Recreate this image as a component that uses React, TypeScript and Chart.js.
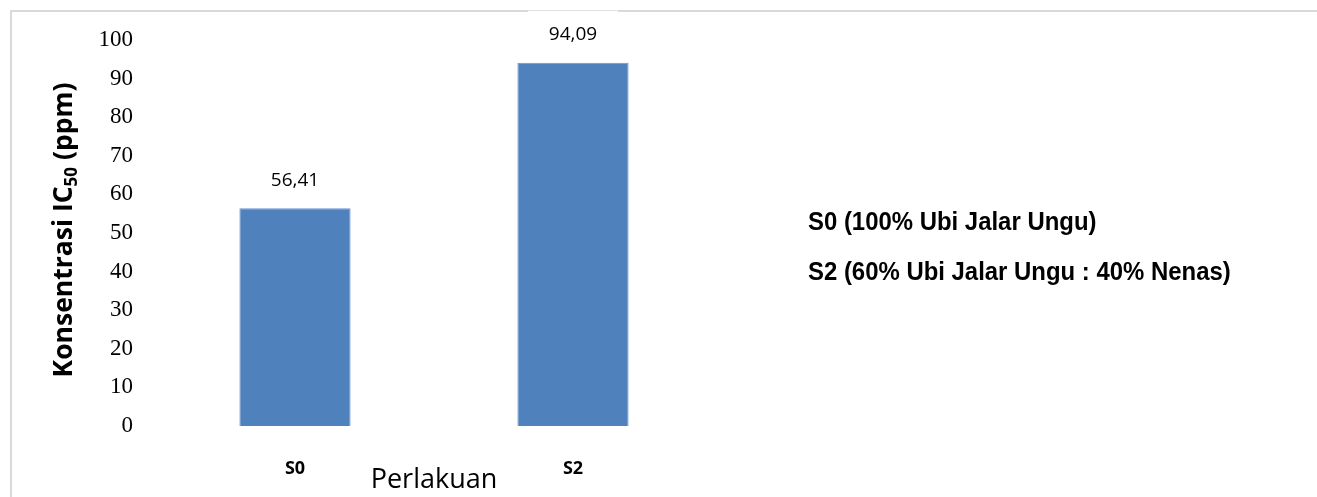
import React, { useEffect, useRef } from "react";
import { Chart, registerables } from "chart.js";

Chart.register(...registerables);

const categories = ["S0", "S2"];
const values = [56.41, 94.09];
const valueLabels = ["56,41", "94,09"];
const legendLines = ["S0 (100% Ubi Jalar Ungu)", "S2 (60% Ubi Jalar Ungu : 40% Nenas)"];
const yTitleParts = ["Konsentrasi IC", "50", " (ppm)"];
const xTitle = "Perlakuan";

const W = 1317;
const H = 497;

const decorPlugin = {
  id: "decor",
  beforeDraw(chart: any) {
    const ctx = chart.ctx;
    ctx.save();
    ctx.fillStyle = "#ffffff";
    ctx.fillRect(0, 0, W, H);
    ctx.strokeStyle = "#d9d9d9";
    ctx.lineWidth = 2;
    ctx.beginPath();
    ctx.moveTo(11, H);
    ctx.lineTo(11, 11);
    ctx.lineTo(W, 11);
    ctx.stroke();
    ctx.restore();
  },
  afterDraw(chart: any) {
    const ctx = chart.ctx;
    ctx.save();
    // value labels
    const meta = chart.getDatasetMeta(0);
    ctx.font = "19px 'Open Sans'";
    ctx.textAlign = "center";
    ctx.textBaseline = "middle";
    meta.data.forEach((bar: any, i: number) => {
      const y = bar.y - 28;
      ctx.fillStyle = "#ffffff";
      ctx.fillRect(bar.x - 45, y - 24, 90, 40);
      ctx.fillStyle = "#000000";
      ctx.fillText(valueLabels[i], bar.x, y);
    });
    // y title with subscript
    ctx.translate(72, 230);
    ctx.rotate(-Math.PI / 2);
    const big = "bold 26.5px 'Open Sans'";
    const small = "bold 17px 'Open Sans'";
    ctx.font = big;
    const w0 = ctx.measureText(yTitleParts[0]).width;
    const w2 = ctx.measureText(yTitleParts[2]).width;
    ctx.font = small;
    const w1 = ctx.measureText(yTitleParts[1]).width;
    const total = w0 + w1 + w2;
    let x = -total / 2;
    ctx.textAlign = "left";
    ctx.textBaseline = "alphabetic";
    ctx.fillStyle = "#000000";
    ctx.font = big;
    ctx.fillText(yTitleParts[0], x, 0);
    x += w0;
    ctx.font = small;
    ctx.fillText(yTitleParts[1], x, 5);
    x += w1;
    ctx.font = big;
    ctx.fillText(yTitleParts[2], x, 0);
    ctx.restore();
    // legend text (condensed)
    ctx.save();
    ctx.fillStyle = "#000000";
    ctx.font = "bold 26px 'Liberation Sans'";
    ctx.textAlign = "left";
    ctx.textBaseline = "alphabetic";
    ctx.translate(808, 0);
    ctx.scale(0.92, 1);
    ctx.fillText(legendLines[0], 0, 230);
    ctx.fillText(legendLines[1], 0, 280);
    ctx.restore();
  },
};

export default function App() {
  const ref = useRef<HTMLCanvasElement | null>(null);
  useEffect(() => {
    if (!ref.current) return;
    const chart = new Chart(ref.current, {
      type: "bar",
      data: {
        labels: categories,
        datasets: [
          {
            data: values,
            backgroundColor: "#4F81BD",
            borderColor: "#6B96CC",
            borderWidth: 1,
            barPercentage: 0.4,
            categoryPercentage: 1,
          },
        ],
      },
      options: {
        responsive: false,
        animation: false,
        devicePixelRatio: 1,
        layout: { padding: { left: 0, right: W - 712, top: 40, bottom: 0 } },
        plugins: { legend: { display: false }, tooltip: { enabled: false } },
        scales: {
          y: {
            min: 0,
            max: 100,
            ticks: {
              stepSize: 10,
              color: "#000000",
              padding: 23,
              font: { family: "'Liberation Serif'", size: 23 },
            },
            grid: { display: false, drawTicks: false },
            border: { display: false },
            afterFit(s: any) {
              s.width = 156;
            },
          },
          x: {
            ticks: {
              color: "#000000",
              padding: 32,
              font: { family: "'Open Sans'", size: 18, weight: "bold" },
            },
            grid: { display: false, drawTicks: false },
            border: { display: false },
            title: {
              display: true,
              text: xTitle,
              color: "#000000",
              font: { family: "'Open Sans'", size: 27 },
              padding: { top: 0, bottom: 0 },
            },
            afterFit(s: any) {
              s.height = 71;
            },
          },
        },
      },
      plugins: [decorPlugin],
    });
    return () => chart.destroy();
  }, []);
  return (
    <div style={{ position: "absolute", left: 0, top: 0, width: W, height: H }}>
      <canvas ref={ref} width={W} height={H} style={{ display: "block" }} />
    </div>
  );
}
